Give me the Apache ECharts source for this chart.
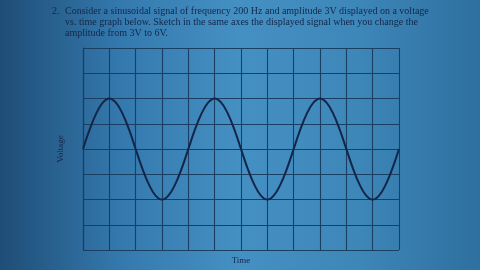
<!DOCTYPE html>
<html><head><meta charset="utf-8">
<script src="https://cdn.jsdelivr.net/npm/echarts@6/dist/echarts.min.js"></script>
<style>html,body{margin:0;padding:0;}#c{width:480px;height:270px;}</style>
</head><body><div id="c"></div>
<script>
// time in ms (each grid column = 1.25 ms), voltage in V (each row = 1.5 V)
const timeMs = [0,0.3125,0.625,0.9375,1.25,1.5625,1.875,2.1875,2.5,2.8125,3.125,3.4375,3.75,4.0625,4.375,4.6875,5,
  5.3125,5.625,5.9375,6.25,6.5625,6.875,7.1875,7.5,7.8125,8.125,8.4375,8.75,9.0625,9.375,9.6875,10,
  10.3125,10.625,10.9375,11.25,11.5625,11.875,12.1875,12.5,12.8125,13.125,13.4375,13.75,14.0625,14.375,14.6875,15];
const voltage = [0,1.15,2.1,2.75,3,2.75,2.1,1.15,0,-1.15,-2.1,-2.75,-3,-2.75,-2.1,-1.15,0,
  1.15,2.1,2.75,3,2.75,2.1,1.15,0,-1.15,-2.1,-2.75,-3,-2.75,-2.1,-1.15,0,
  1.15,2.1,2.75,3,2.75,2.1,1.15,0,-1.15,-2.1,-2.75,-3,-2.75,-2.1,-1.15,0];
const questionNum = '2.';
const questionLines = [
  'Consider a sinusoidal signal of frequency 200 Hz and amplitude 3V displayed on a voltage',
  'vs. time graph below. Sketch in the same axes the displayed signal when you change the',
  'amplitude from 3V to 6V.'
];
const xName = 'Time';
const yName = 'Voltage';

const chart = echarts.init(document.getElementById('c'));
const gridCol = '#1b3f63';
const ink = '#13264a';
chart.setOption({
  backgroundColor: {type:'linear', x:0, y:0, x2:1, y2:0, colorStops:[
    {offset:0, color:'#1f4d76'}, {offset:0.25, color:'#3479ad'}, {offset:0.5, color:'#4590c3'},
    {offset:0.75, color:'#3d86b8'}, {offset:1, color:'#2e709f'}]},
  title: [
    {text: questionNum, left: 47, top: 1, textStyle:{fontFamily:'Liberation Serif', fontSize:10, fontWeight:'normal', color:ink}},
    {text: questionLines.join('\n'), left: 60, top: 1, textStyle:{fontFamily:'Liberation Serif', fontSize:10, fontWeight:'normal', color:ink, lineHeight:11}}
  ],
  grid: {left: 83, right: 81, top: 48, bottom: 16},
  xAxis: {type:'value', min:0, max:15, interval:1.25,
    name: xName, nameLocation:'middle', nameGap:6,
    nameTextStyle:{fontFamily:'Liberation Serif', fontSize:9, color:ink},
    axisLine:{show:true, lineStyle:{color:gridCol, width:1.2}}, axisTick:{show:false}, axisLabel:{show:false},
    splitLine:{show:true, lineStyle:{color:gridCol, width:1.1}}},
  yAxis: {type:'value', min:-6, max:6, interval:1.5,
    name: yName, nameLocation:'middle', nameGap:18,
    nameTextStyle:{fontFamily:'Liberation Serif', fontSize:9, color:ink},
    axisLine:{show:true, lineStyle:{color:gridCol, width:1.2}}, axisTick:{show:false}, axisLabel:{show:false},
    splitLine:{show:true, lineStyle:{color:gridCol, width:1.1}}},
  series: [{type:'line', data: timeMs.map((t,i)=>[t, voltage[i]]), smooth:0.4, showSymbol:false,
    lineStyle:{color:ink, width:2}, animation:false}],
  animation:false
});
</script></body></html>
